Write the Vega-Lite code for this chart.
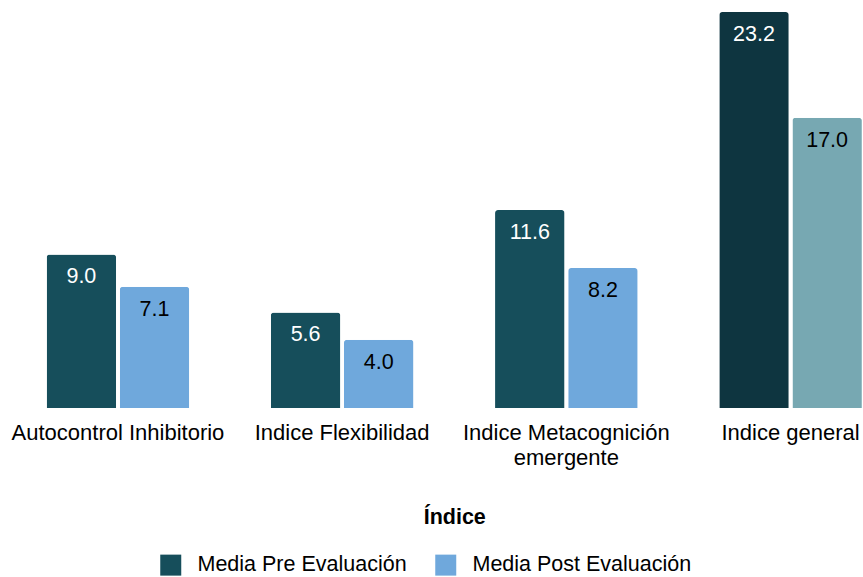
{
  "$schema": "https://vega.github.io/schema/vega-lite/v6.json",
  "width": 863,
  "height": 396,
  "autosize": "none",
  "padding": {"left": 0, "top": 12, "right": 0, "bottom": 169},
  "config": {"view": {"stroke": null}, "font": "Liberation Sans"},
  "data": {
    "values": [
      {"indice": "Autocontrol Inhibitorio", "serie": "Media Pre Evaluación", "valor": 9.0},
      {"indice": "Autocontrol Inhibitorio", "serie": "Media Post Evaluación", "valor": 7.1},
      {"indice": "Indice Flexibilidad", "serie": "Media Pre Evaluación", "valor": 5.6},
      {"indice": "Indice Flexibilidad", "serie": "Media Post Evaluación", "valor": 4.0},
      {"indice": "Indice Metacognición emergente", "serie": "Media Pre Evaluación", "valor": 11.6},
      {"indice": "Indice Metacognición emergente", "serie": "Media Post Evaluación", "valor": 8.2},
      {"indice": "Indice general", "serie": "Media Pre Evaluación", "valor": 23.2},
      {"indice": "Indice general", "serie": "Media Post Evaluación", "valor": 17.0}
    ]
  },
  "encoding": {
    "x": {
      "field": "indice",
      "type": "nominal",
      "sort": null,
      "scale": {"range": [0, 908.5], "paddingInner": 0.364, "paddingOuter": 0.208},
      "axis": {
        "title": "Índice",
        "domain": false,
        "ticks": false,
        "grid": false,
        "labelAngle": 0,
        "labelFontSize": 22,
        "labelColor": "#000000",
        "labelPadding": 14.5,
        "labelLineHeight": 25,
        "labelLimit": 0,
        "labelExpr": "datum.label == 'Indice Metacognición emergente' ? ['Indice Metacognición', 'emergente'] : datum.label",
        "titleFontSize": 21.5,
        "titleFontWeight": "bold",
        "titleColor": "#000000",
        "titleBaseline": "alphabetic",
        "titleY": 115.5
      }
    },
    "xOffset": {
      "field": "serie",
      "type": "nominal",
      "sort": ["Media Pre Evaluación", "Media Post Evaluación"],
      "scale": {"paddingInner": 0.05}
    },
    "y": {
      "field": "valor",
      "type": "quantitative",
      "scale": {"domain": [0, 23.2], "nice": false, "zero": true},
      "axis": null
    }
  },
  "layer": [
    {
      "mark": {"type": "bar", "cornerRadiusTopLeft": 3, "cornerRadiusTopRight": 3},
      "encoding": {
        "color": {
          "field": "serie",
          "type": "nominal",
          "scale": {
            "domain": ["Media Pre Evaluación", "Media Post Evaluación"],
            "range": ["#164E5B", "#6FA8DC"]
          },
          "condition": [
            {"test": "datum.indice === 'Indice general' && datum.serie === 'Media Pre Evaluación'", "value": "#0E3540"},
            {"test": "datum.indice === 'Indice general' && datum.serie === 'Media Post Evaluación'", "value": "#77A8B2"}
          ],
          "legend": {
            "title": null,
            "orient": "none",
            "legendX": 160,
            "legendY": 542,
            "direction": "horizontal",
            "symbolType": "square",
            "symbolSize": 441,
            "symbolStrokeWidth": 0,
            "labelFontSize": 21.5,
            "labelColor": "#000000",
            "labelOffset": 16,
            "columnPadding": 28,
            "labelLimit": 0
          }
        }
      }
    },
    {
      "mark": {"type": "text", "baseline": "top", "dy": 12, "fontSize": 21.5},
      "encoding": {
        "text": {"field": "valor", "type": "quantitative", "format": ".1f"},
        "color": {
          "condition": {"test": "datum.serie === 'Media Pre Evaluación'", "value": "#FFFFFF"},
          "value": "#000000"
        }
      }
    }
  ]
}
